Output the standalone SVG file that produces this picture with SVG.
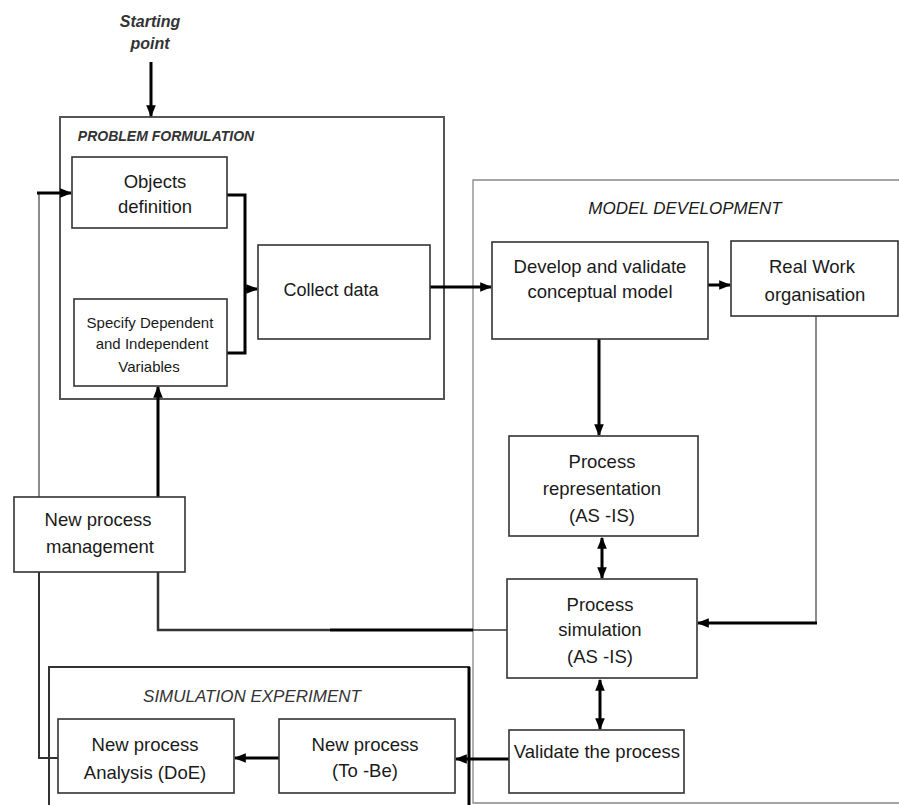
<svg xmlns="http://www.w3.org/2000/svg" width="899" height="805" viewBox="0 0 899 805">
<style>
  text { font-family: "Liberation Sans", Arial, sans-serif; fill: #1a1a1a; text-anchor: middle; }
  .lbl { font-size: 18.5px; }
  .sm { font-size: 15px; }
  .ttl { font-size: 17px; font-style: italic; }
  .box { fill: #fff; stroke: #333; stroke-width: 1.6; }
  .cont { fill: none; stroke: #555; stroke-width: 2; }
  .thick { fill: none; stroke: #000; stroke-width: 3; }
  .thin { fill: none; stroke: #666; stroke-width: 1.5; }
</style>
<defs>
  <marker id="ah" markerUnits="userSpaceOnUse" markerWidth="12" markerHeight="12" viewBox="0 0 10 10" refX="9" refY="5" orient="auto-start-reverse">
    <path d="M0,1 L10,5 L0,9 Z" fill="#000"/>
  </marker>
</defs>
<rect width="899" height="805" fill="#fff"/>

<!-- containers -->
<g id="problem-formulation">
  <rect class="cont" x="60" y="117" width="384" height="282"/>
  <text x="166" y="141" style="font-size:14px;font-style:italic;font-weight:bold;fill:#333">PROBLEM FORMULATION</text>
</g>
<g id="model-development">
  <path d="M899,180 H473 V803 H899" fill="none" stroke="#888" stroke-width="1.3"/>
  <text class="ttl" x="685" y="214">MODEL DEVELOPMENT</text>
</g>
<g id="simulation-experiment">
  <path d="M49,805 V667 H469 V805" fill="none" stroke="#333" stroke-width="2"/>
  <path d="M469,667 V805" fill="none" stroke="#000" stroke-width="3"/>
  <text class="ttl" x="252" y="702" style="fill:#333">SIMULATION EXPERIMENT</text>
</g>

<!-- connectors -->
<g id="connectors">
  <line class="thick" x1="151" y1="62" x2="151" y2="116" marker-end="url(#ah)"/>
  <path class="thin" d="M39,193 V572"/>
  <path fill="none" stroke="#333" stroke-width="2" d="M39,572 V758 H58"/>
  <line class="thick" x1="37" y1="193" x2="71" y2="193" marker-end="url(#ah)"/>
  <path class="thick" d="M227,195 H245 V353 H227"/>
  <line class="thick" x1="245" y1="289" x2="257" y2="289" marker-end="url(#ah)"/>
  <line class="thick" x1="430" y1="287" x2="491" y2="287" marker-end="url(#ah)"/>
  <line class="thick" x1="708" y1="285" x2="730" y2="285" marker-end="url(#ah)"/>
  <line class="thick" x1="599" y1="339" x2="599" y2="435" marker-end="url(#ah)"/>
  <line class="thick" x1="602" y1="538" x2="602" y2="578" marker-start="url(#ah)" marker-end="url(#ah)"/>
  <line class="thick" x1="600" y1="680" x2="600" y2="729" marker-start="url(#ah)" marker-end="url(#ah)"/>
  <path class="thin" d="M816,316 V623"/>
  <path class="thick" d="M817,623 H698" marker-end="url(#ah)"/>
  <line class="thick" x1="509" y1="759" x2="456" y2="759" marker-end="url(#ah)"/>
  <line class="thick" x1="279" y1="758" x2="235" y2="758" marker-end="url(#ah)"/>
  <line class="thick" x1="158" y1="497" x2="158" y2="387" marker-end="url(#ah)"/>
  <path fill="none" stroke="#333" stroke-width="2.5" d="M158,572 V630 H330"/>
  <path class="thick" d="M330,630 H473"/>
  <path fill="none" stroke="#333" stroke-width="1.3" d="M473,630 H507"/>
</g>

<!-- nodes -->
<g id="objects-definition">
  <rect class="box" x="72" y="157" width="155" height="71"/>
  <text class="lbl" x="155" y="188">Objects</text>
  <text class="lbl" x="155" y="213">definition</text>
</g>
<g id="specify-variables">
  <rect class="box" x="74" y="299" width="153" height="87"/>
  <text class="sm" x="150" y="328">Specify Dependent</text>
  <text class="sm" x="152" y="349">and Independent</text>
  <text class="sm" x="149" y="372">Variables</text>
</g>
<g id="collect-data">
  <rect class="box" x="258" y="245" width="172" height="94"/>
  <text class="lbl" x="331" y="296" style="font-size:18px">Collect data</text>
</g>
<g id="develop-model">
  <rect class="box" x="492" y="242" width="216" height="97"/>
  <text class="lbl" x="600" y="273">Develop and validate</text>
  <text class="lbl" x="600" y="298">conceptual model</text>
</g>
<g id="real-work">
  <rect class="box" x="731" y="241" width="167" height="75"/>
  <text class="lbl" x="812" y="273">Real Work</text>
  <text class="lbl" x="815" y="301">organisation</text>
</g>
<g id="process-representation">
  <rect class="box" x="509" y="436" width="189" height="100"/>
  <text class="lbl" x="602" y="468">Process</text>
  <text class="lbl" x="602" y="495">representation</text>
  <text class="lbl" x="602" y="522">(AS -IS)</text>
</g>
<g id="process-simulation">
  <rect class="box" x="507" y="579" width="190" height="99"/>
  <text class="lbl" x="600" y="611">Process</text>
  <text class="lbl" x="600" y="636">simulation</text>
  <text class="lbl" x="600" y="663">(AS -IS)</text>
</g>
<g id="validate-process">
  <rect class="box" x="509" y="730" width="175" height="63"/>
  <text class="lbl" x="597" y="758">Validate the process</text>
</g>
<g id="new-process-tobe">
  <rect class="box" x="279" y="719" width="176" height="74"/>
  <text class="lbl" x="365" y="751">New process</text>
  <text class="lbl" x="365" y="777">(To -Be)</text>
</g>
<g id="new-process-analysis">
  <rect class="box" x="58" y="719" width="176" height="74"/>
  <text class="lbl" x="145" y="751">New process</text>
  <text class="lbl" x="145" y="779">Analysis (DoE)</text>
</g>
<g id="new-process-management">
  <rect class="box" x="14" y="497" width="171" height="75"/>
  <text class="lbl" x="98" y="526">New process</text>
  <text class="lbl" x="100" y="553">management</text>
</g>
<g id="starting-point">
  <text x="150" y="27" style="font-size:16px;font-style:italic;font-weight:bold;fill:#333">Starting</text>
  <text x="150" y="49" style="font-size:16px;font-style:italic;font-weight:bold;fill:#333">point</text>
</g>
</svg>
